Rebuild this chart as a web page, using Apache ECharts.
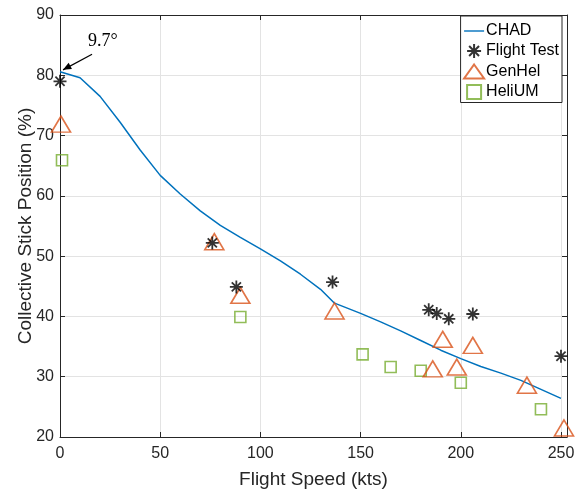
<!DOCTYPE html>
<html><head><meta charset="utf-8">
<script src="https://cdn.jsdelivr.net/npm/echarts@6/dist/echarts.min.js"></script>
<style>html,body{margin:0;padding:0;background:#fff}#c{width:579px;height:492px}</style>
</head><body><div id="c"></div>
<script>
const chadSpeed = [0, 10, 20, 30, 40, 50, 60, 70, 80, 90, 100, 110, 120, 130, 137, 150, 160, 170, 180, 190, 200, 210, 220, 230, 240, 250];
const chadPos   = [80.6, 79.6, 76.5, 72.2, 67.6, 63.4, 60.3, 57.5, 55.1, 53.1, 51.2, 49.2, 47.0, 44.5, 42.2, 40.5, 39.1, 37.6, 36.0, 34.4, 33.0, 31.7, 30.6, 29.4, 27.9, 26.4];
const ftSpeed = [0, 76, 88, 136, 184, 188, 194, 206, 250];
const ftPos   = [79.0, 52.2, 44.9, 45.7, 41.1, 40.5, 39.6, 40.4, 33.4];
const ghSpeed = [0.5, 77, 90, 137, 186, 191, 198, 206, 233, 251.5];
const ghPos   = [71.9, 52.4, 43.5, 40.9, 31.3, 36.2, 31.6, 35.2, 28.6, 21.5];
const huSpeed = [1, 90, 151, 165, 180, 200, 240];
const huPos   = [65.9, 39.9, 33.7, 31.6, 31.0, 29.0, 24.6];
const xTicks = [0, 50, 100, 150, 200, 250];
const yTicks = [20, 30, 40, 50, 60, 70, 80, 90];

const zip = (a, b) => a.map((v, i) => [v, b[i]]);
const font = 'Liberation Sans, Arial, sans-serif';
const axCol = '#262626';
const star = 'path://M0,-10L0,10M-10,0L10,0M-7.07,-7.07L7.07,7.07M-7.07,7.07L7.07,-7.07';
const lineIcon = 'path://M0,9.3L20,9.3L20,10.7L0,10.7Z';
const squareIcon = 'path://M4,4L16,4L16,16L4,16Z';

const chart = echarts.init(document.getElementById('c'), null, {renderer: 'canvas'});
const xBase = {type: 'value', min: 0, max: 253, interval: 50,
  axisLine: {show: true, onZero: false, lineStyle: {color: axCol, width: 1}},
  axisTick: {show: true, inside: true, length: 5, lineStyle: {color: axCol}},
  splitLine: {show: false}};
const yBase = {type: 'value', min: 20, max: 90, interval: 10,
  axisLine: {show: true, onZero: false, lineStyle: {color: axCol, width: 1}},
  axisTick: {show: true, inside: true, length: 5, lineStyle: {color: axCol}},
  splitLine: {show: false}};

chart.setOption({
  animation: false,
  grid: {left: 60, right: 12, top: 15, bottom: 55, containLabel: false, outerBoundsMode: 'none'},
  xAxis: [
    Object.assign({}, xBase, {position: 'bottom',
      name: 'Flight Speed (kts)', nameLocation: 'middle', nameGap: 33,
      nameTextStyle: {fontFamily: font, fontSize: 19, color: axCol},
      splitLine: {show: true, lineStyle: {color: '#e3e3e3'}},
      axisLabel: {fontFamily: font, fontSize: 16, color: axCol, margin: 9, showMaxLabel: false,
        formatter: v => xTicks.includes(v) ? String(v) : ''}}),
    Object.assign({}, xBase, {position: 'top', axisLabel: {show: false}})
  ],
  yAxis: [
    Object.assign({}, yBase, {position: 'left',
      name: 'Collective Stick Position (%)', nameLocation: 'middle', nameGap: 25, nameMoveOverlap: false,
      nameTextStyle: {fontFamily: font, fontSize: 19, color: axCol},
      splitLine: {show: true, lineStyle: {color: '#e3e3e3'}},
      axisLabel: {fontFamily: font, fontSize: 16, color: axCol, margin: 6,
        formatter: v => yTicks.includes(v) ? String(v) : ''}}),
    Object.assign({}, yBase, {position: 'right', axisLabel: {show: false}})
  ],
  legend: {
    orient: 'vertical', right: 17, top: 16,
    backgroundColor: '#fff', borderColor: axCol, borderWidth: 1,
    padding: [6, 3, 1, 1], itemGap: 1.5, itemWidth: 20, itemHeight: 14,
    textStyle: {fontFamily: font, fontSize: 16, lineHeight: 18, color: '#000', padding: [0, 0, 0, -3]},
    data: [
      {name: 'CHAD', icon: lineIcon, itemStyle: {color: '#0072BD'}},
      {name: 'Flight Test', icon: star, itemStyle: {color: 'none', borderColor: '#000', borderWidth: 2}},
      {name: 'GenHel', icon: 'triangle'},
      {name: 'HeliUM', icon: squareIcon}
    ]
  },
  series: [
    {name: 'CHAD', type: 'line', data: zip(chadSpeed, chadPos), symbol: 'none',
      lineStyle: {color: '#0072BD', width: 1.5}, itemStyle: {color: '#0072BD'}, z: 2},
    {name: 'Flight Test', type: 'scatter', data: zip(ftSpeed, ftPos), symbol: star, symbolSize: 13,
      itemStyle: {color: 'none', borderColor: '#000', borderWidth: 1.8}, z: 5},
    {name: 'GenHel', type: 'scatter', data: zip(ghSpeed, ghPos), symbol: 'triangle', symbolSize: [19, 16],
      itemStyle: {color: 'none', borderColor: '#D95319', borderWidth: 1.6}, z: 4},
    {name: 'HeliUM', type: 'scatter', data: zip(huSpeed, huPos), symbol: 'rect', symbolSize: 11,
      itemStyle: {color: 'none', borderColor: '#77AC30', borderWidth: 1.6}, z: 3}
  ]
});

// annotation arrow pointing at the CHAD curve start
const tip = chart.convertToPixel({xAxisIndex: 0, yAxisIndex: 0}, [1.5, 80.9]);
const tail = chart.convertToPixel({xAxisIndex: 0, yAxisIndex: 0}, [16, 83.5]);
const lbl = chart.convertToPixel({xAxisIndex: 0, yAxisIndex: 0}, [14, 85.6]);
const ang = Math.atan2(tip[1] - tail[1], tip[0] - tail[0]);
const hl = 9, hw = 0.4;
chart.setOption({graphic: [
  {type: 'line', shape: {x1: tail[0], y1: tail[1], x2: tip[0], y2: tip[1]}, style: {stroke: '#000', lineWidth: 1.2}, z: 10},
  {type: 'polygon', shape: {points: [tip,
    [tip[0] - hl * Math.cos(ang - hw), tip[1] - hl * Math.sin(ang - hw)],
    [tip[0] - hl * Math.cos(ang + hw), tip[1] - hl * Math.sin(ang + hw)]]},
    style: {fill: '#000'}, z: 10},
  {type: 'text', x: lbl[0], y: lbl[1], style: {text: '9.7°', font: '18px "Liberation Serif", "DejaVu Serif", serif', fill: '#000', textVerticalAlign: 'middle'}, z: 10}
]});
</script></body></html>
